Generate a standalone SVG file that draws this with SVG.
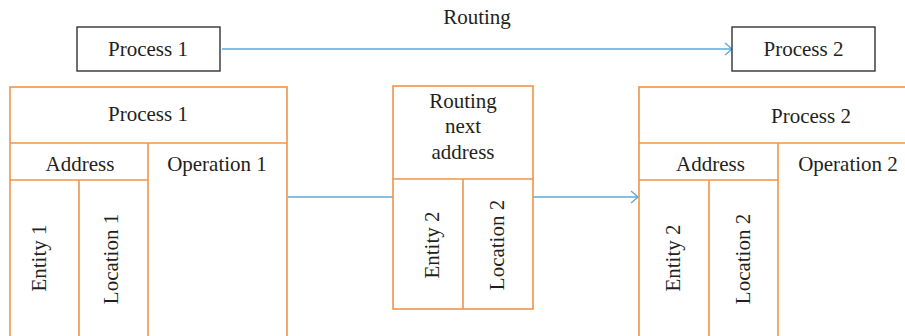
<svg xmlns="http://www.w3.org/2000/svg" width="905" height="336" viewBox="0 0 905 336">
<style>
text{font-family:"Liberation Serif","DejaVu Serif",serif;font-size:21px;fill:#231f20;text-anchor:middle}
.o{fill:none;stroke:#f0944a;stroke-width:1.6}
.k{fill:#fff;stroke:#333;stroke-width:1.4}
.c{fill:none;stroke:#5aa9dd;stroke-width:1.5}
</style>
<defs>
<marker id="ah" markerWidth="12" markerHeight="14" refX="10" refY="7" orient="auto" markerUnits="userSpaceOnUse">
<path d="M3,1 L10,7 L3,13" fill="none" stroke="#5aa9dd" stroke-width="1.4"/>
</marker>
</defs>
<g id="connectors">
<line class="c" x1="222" y1="49" x2="732" y2="49" marker-end="url(#ah)"/>
<line class="c" x1="288" y1="197" x2="393" y2="197"/>
<line class="c" x1="533" y1="197" x2="638" y2="197" marker-end="url(#ah)"/>
<text x="477" y="24">Routing</text>
</g>
<g id="top-process1">
<rect class="k" x="77" y="27" width="143" height="44"/>
<text x="148" y="56">Process 1</text>
</g>
<g id="top-process2">
<rect class="k" x="732" y="27" width="143" height="44"/>
<text x="803.5" y="56">Process 2</text>
</g>
<g id="left-structure">
<rect class="o" x="10" y="87" width="277" height="260"/>
<line class="o" x1="10" y1="143" x2="287" y2="143"/>
<line class="o" x1="148" y1="143" x2="148" y2="347"/>
<line class="o" x1="10" y1="180" x2="148" y2="180"/>
<line class="o" x1="79" y1="180" x2="79" y2="347"/>
<text x="148" y="121">Process 1</text>
<text x="80" y="171">Address</text>
<text x="217" y="171">Operation 1</text>
<text transform="translate(46,258) rotate(-90)">Entity 1</text>
<text transform="translate(118,259) rotate(-90)">Location 1</text>
</g>
<g id="middle-structure">
<rect class="o" x="393" y="86" width="140" height="223"/>
<line class="o" x1="393" y1="179" x2="533" y2="179"/>
<line class="o" x1="463" y1="179" x2="463" y2="309"/>
<text x="463" y="108">Routing</text>
<text x="463" y="133">next</text>
<text x="463" y="159">address</text>
<text transform="translate(439,245) rotate(-90)">Entity 2</text>
<text transform="translate(504,245) rotate(-90)">Location 2</text>
</g>
<g id="right-structure">
<rect class="o" x="639" y="87" width="290" height="260"/>
<line class="o" x1="639" y1="143" x2="929" y2="143"/>
<line class="o" x1="778" y1="143" x2="778" y2="347"/>
<line class="o" x1="639" y1="180" x2="778" y2="180"/>
<line class="o" x1="709" y1="180" x2="709" y2="347"/>
<text x="811" y="123">Process 2</text>
<text x="710.5" y="171">Address</text>
<text x="848" y="171">Operation 2</text>
<text transform="translate(680,258) rotate(-90)">Entity 2</text>
<text transform="translate(750,259) rotate(-90)">Location 2</text>
</g>
</svg>
